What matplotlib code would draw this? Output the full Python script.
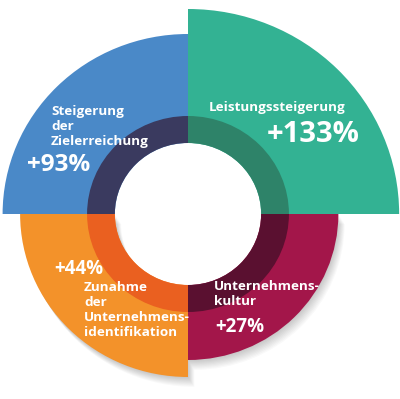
import numpy as np
import matplotlib
matplotlib.use("Agg")
import matplotlib.pyplot as plt

# segments, counter-clockwise from 0 deg (right)
segments = ["Leistungssteigerung", "Steigerung der Zielerreichung",
            "Zunahme der Unternehmensidentifikation", "Unternehmenskultur"]
values = ["+133%", "+93%", "+44%", "+27%"]
outer_radius = [205, 180, 163, 146]
ring_radius = 98
hole_radius = 71

outer_colors = ["#33b293", "#4a89c8", "#f3922a", "#a3164a"]
inner_colors = ["#2e8369", "#3a3a5f", "#ea6020", "#5a1030"]

W, H = 400, 399
CX, CY = 188, 214           # centre in pixels (from top-left)
RMAX = 215
XSTRETCH = 1.03


def polar_axes(fig, dx=0, dy=0):
    w = 2 * RMAX * XSTRETCH / W
    h = 2 * RMAX / H
    left = (CX + dx) / W - w / 2
    bottom = (H - CY - dy) / H - h / 2
    ax = fig.add_axes([left, bottom, w, h], projection="polar")
    ax.set_aspect("auto")
    ax.set_ylim(0, RMAX)
    ax.axis("off")
    return ax


def px(x, y):
    return x / W, (H - y) / H


fig = plt.figure(figsize=(W / 100, H / 100), dpi=100)
fig.patch.set_facecolor("white")

theta = np.deg2rad([45, 135, 225, 315])
width = np.pi / 2

# soft shadow under the lower segments, cast down-right
for k in range(1, 10):
    sh = polar_axes(fig, dx=0.7 * k, dy=1.1 * k)
    sh.bar(theta[2:], np.array(outer_radius[2:]) - hole_radius, width=width,
           bottom=hole_radius, color="black", alpha=0.022, linewidth=0)

ax = polar_axes(fig)
ax.bar(theta, np.array(outer_radius) - hole_radius, width=width, bottom=hole_radius,
       color=outer_colors, linewidth=0)
ax.bar(theta, ring_radius - hole_radius, width=width, bottom=hole_radius,
       color=inner_colors, linewidth=0)

font = "Open Sans"
small = dict(color="white", fontsize=9.7, fontweight="bold", family=font,
             ha="left", va="center", linespacing=1.2)
big = dict(color="white", fontweight="bold", family=font, ha="left", va="center")

fig.text(*px(51, 126), "Steigerung\nder\nZielerreichung", **small)
fig.text(*px(27, 165), values[1], fontsize=17.5, **big)

fig.text(*px(209, 108), "Leistungssteigerung", **small)
fig.text(*px(267, 135), values[0], fontsize=21, **big)

fig.text(*px(54, 269), values[2], fontsize=13.5, **big)
fig.text(*px(84, 310), "Zunahme\nder\nUnternehmens-\nidentifikation", **small)

fig.text(*px(214, 294), "Unternehmens-\nkultur", **small)
fig.text(*px(215, 327), values[3], fontsize=13.5, **big)

fig.savefig("out.png", dpi=100, facecolor="white")
